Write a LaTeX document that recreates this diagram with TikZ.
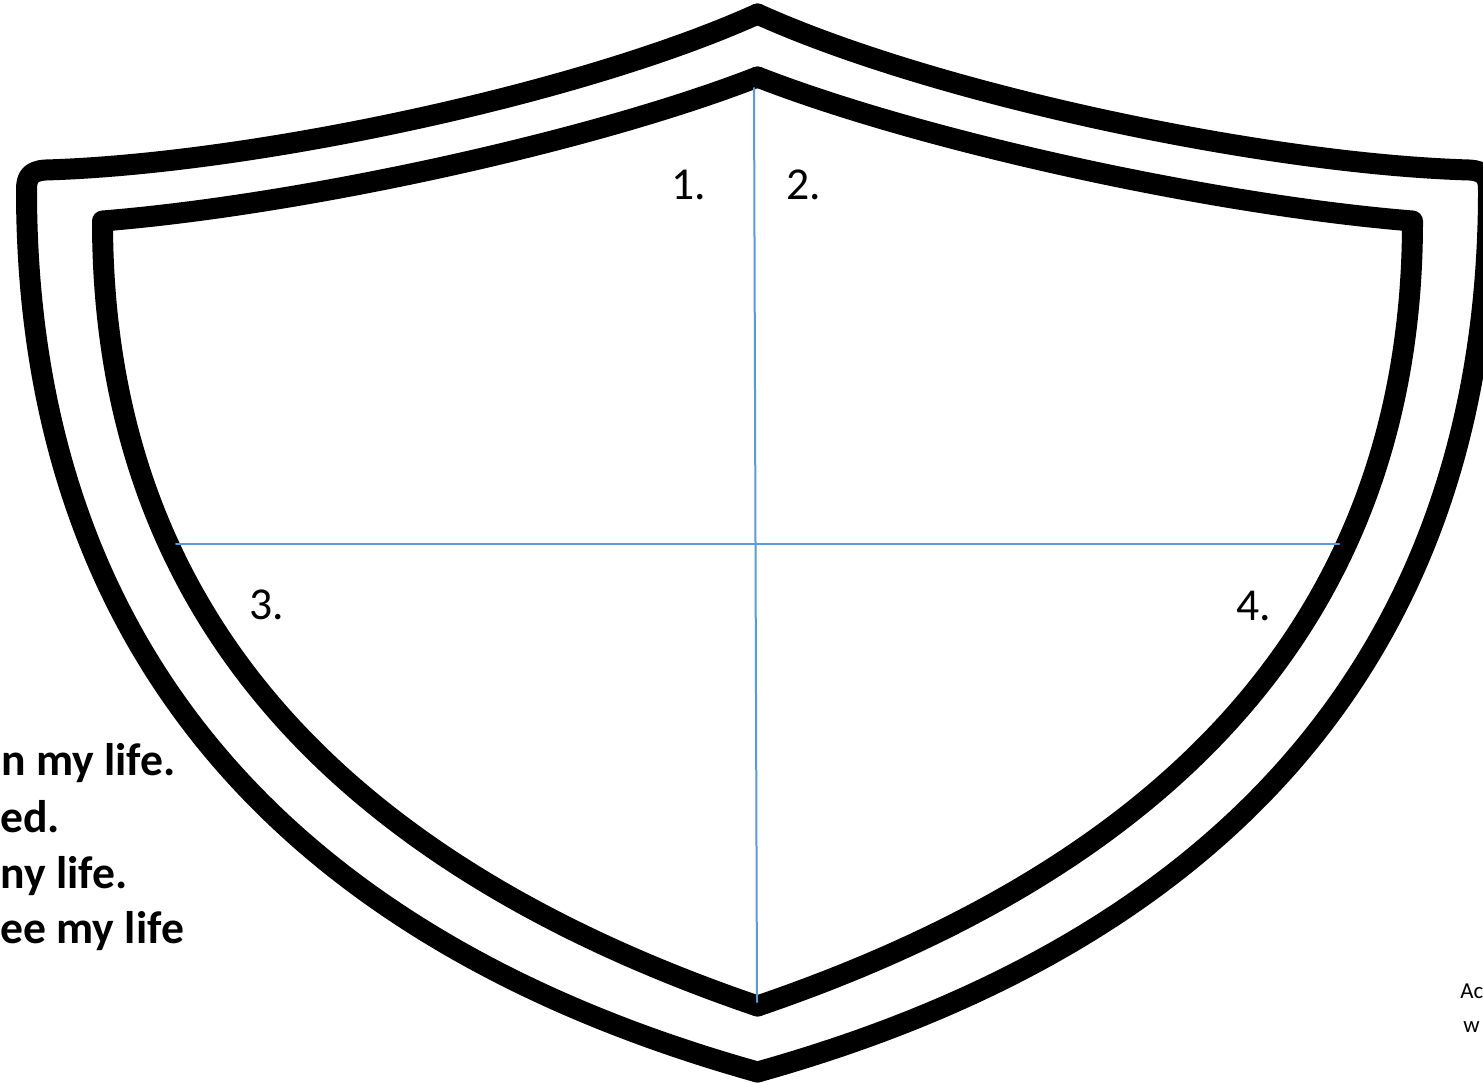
\documentclass[tikz,border=0pt]{standalone}
\usepackage{fontspec}
\setmainfont{Carlito}
\definecolor{divblue}{RGB}{91,155,213}
\tikzset{
	rim/.style={line width=0.42cm},
	divide/.style={divblue,line width=0.04cm},
	num/.style={font=\fontsize{26}{31}\selectfont},
	note/.style={font=\bfseries\fontsize{26}{31}\selectfont,anchor=base west,inner sep=0pt},
	credit/.style={font=\fontsize{13}{16}\selectfont,anchor=base west,inner sep=0pt}
}
\begin{document}
\begin{tikzpicture}[x=0.02cm,y=-0.02cm, line join=round, line cap=round]
			\def\xm{757.5}
			\useasboundingbox (0,0) rectangle (1483,1082);
			\fill[white] (0,0) rectangle (1483,1082);
			\clip (0,0) rectangle (1483,1082);
			% the two rims, left half drawn and mirrored
			\foreach \s in {1,-1}{
				\begin{scope}[shift={(\xm,0)},xscale=\s]
					\draw[rim] (0,14) .. controls (-177,94) and (-507,164) .. (-712,170)
						.. controls (-728,171) and (-731,178) .. (-731,190)
						.. controls (-731,620) and (-500,932) .. (0,1072);
					\draw[rim] (0,77) .. controls (-167,142) and (-457,205) .. (-655,221)
						.. controls (-655,594) and (-440,856) .. (0,1006);
				\end{scope}
			}
			% quarter lines
			\coordinate (top) at (754,88);
			\coordinate (bot) at (757,1002);
			\coordinate (lft) at (176,544);
			\coordinate (rgt) at (1339,544);
			\draw[divide] (top) -- (bot);
			\draw[divide] (lft) -- (rgt);
			\node[num] (q1) at (689,185) {1.};
			\node[num] (q2) at (804,185) {2.};
			\node[num] (q3) at (267,605) {3.};
			\node[num] (q4) at (1254,606) {4.};
			% notes at the left edge
			\node[note] (l1) at (1,775) {n my life.};
			\node[note] (l2) at (0,832) {ed.};
			\node[note] (l3) at (0,888) {ny life.};
			\node[note] (l4) at (0,943) {ee my life};
			\node[credit] (c1) at (1460,998) {Ac};
			\node[credit] (c2) at (1463,1032) {w};
		\end{tikzpicture}
\end{document}
